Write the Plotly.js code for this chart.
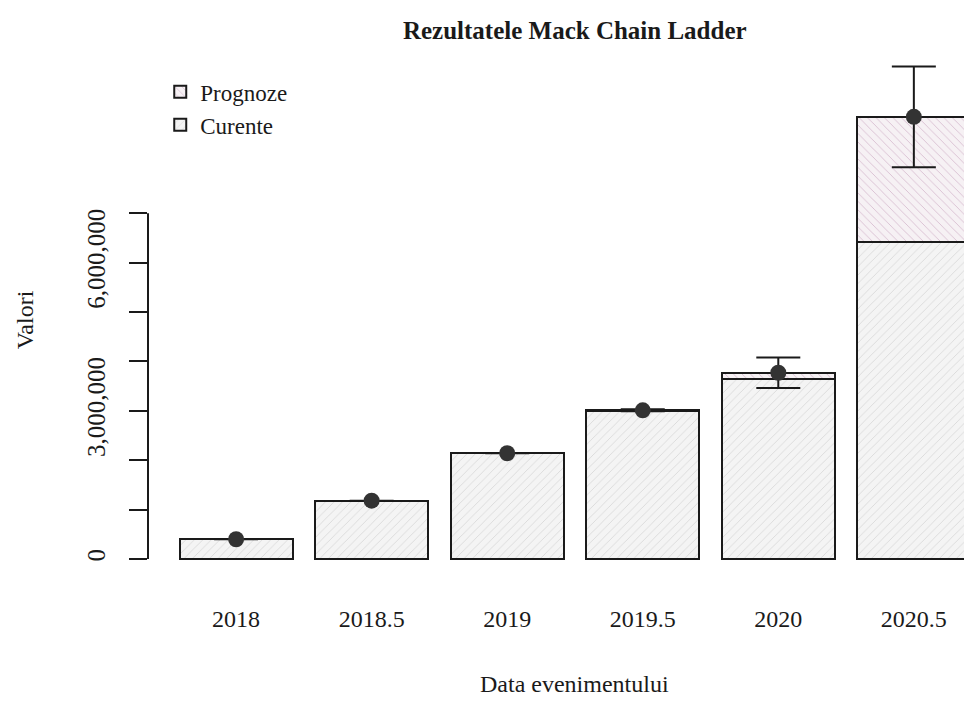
<!DOCTYPE html>
<html>
<head>
<meta charset="utf-8">
<script src="https://cdn.plot.ly/plotly-3.0.1.min.js"></script>
<style>html,body{margin:0;padding:0;background:#fff;}#chart{width:964px;height:701px;}</style>
</head>
<body>
<div id="chart"></div>
<script>
const years = ['2018', '2018.5', '2019', '2019.5', '2020', '2020.5'];
const latest = [0.40e6, 1.18e6, 2.14e6, 3.00e6, 3.64e6, 6.41e6];
const forecast = [0, 0, 0, 0.01e6, 0.13e6, 2.54e6];
const ultimate = [0.40e6, 1.18e6, 2.14e6, 3.01e6, 3.77e6, 8.95e6];
const mackSE = [null, null, null, 0.02e6, 0.31e6, 1.02e6];
const tickVals = [0, 1e6, 2e6, 3e6, 4e6, 5e6, 6e6, 7e6];
const tickText = ['0', '', '', '3,000,000', '', '', '6,000,000', ''];

const serif = 'Liberation Serif, Times New Roman, serif';

const traces = [
  {
    type: 'bar', name: 'Curente', x: years, y: latest,
    marker: {
      color: '#f3f3f3',
      line: {color: '#1a1a1a', width: 2},
      pattern: {shape: '/', fgcolor: '#d4d4d4', bgcolor: '#f4f4f4', size: 6, solidity: 0.12}
    },
    hoverinfo: 'x+y'
  },
  {
    type: 'bar', name: 'Prognoze', x: years, y: forecast,
    marker: {
      color: '#f4eef2',
      line: {color: '#1a1a1a', width: 2},
      pattern: {shape: '\\', fgcolor: '#d8bfd2', bgcolor: '#f6f1f4', size: 6, solidity: 0.15}
    },
    hoverinfo: 'x+y'
  },
  {
    type: 'scatter', mode: 'markers', x: years, y: ultimate, showlegend: false,
    marker: {color: '#333333', size: 16},
    error_y: {type: 'data', array: mackSE, visible: true, color: '#1a1a1a', thickness: 2, width: 22}
  }
];

const layout = {
  width: 964, height: 701,
  margin: {l: 148, r: 0, t: 60, b: 121},
  paper_bgcolor: '#ffffff', plot_bgcolor: '#ffffff',
  font: {family: serif, color: '#1a1a1a', size: 24},
  barmode: 'stack', bargap: 0.1667,
  showlegend: true,
  title: {
    text: '<b>Rezultatele Mack Chain Ladder</b>',
    font: {family: serif, size: 25, color: '#1a1a1a'},
    xref: 'paper', x: 0.523, xanchor: 'center', y: 0.957, yanchor: 'middle'
  },
  legend: {
    x: 0.015, y: 0.98, xanchor: 'left', yanchor: 'top',
    traceorder: 'reversed', bgcolor: 'rgba(0,0,0,0)',
    font: {family: serif, size: 23, color: '#1a1a1a'},
    itemwidth: 30, tracegroupgap: 0
  },
  xaxis: {
    type: 'category', range: [-0.65, 5.37],
    showline: false, showgrid: false, zeroline: false, ticks: '',
    tickfont: {family: serif, size: 24, color: '#1a1a1a'},
    ticklabelstandoff: 22
  },
  yaxis: {
    range: [-0.425e6, 10.1e6],
    showline: false, showgrid: false, zeroline: false,
    ticks: 'outside', ticklen: 18, tickwidth: 2, tickcolor: '#1a1a1a',
    tickvals: tickVals, ticktext: tickText, tickangle: -90,
    tickfont: {family: serif, size: 25, color: '#1a1a1a'},
    ticklabelstandoff: 14,
    title: {text: 'Valori', font: {family: serif, size: 24, color: '#1a1a1a'}, standoff: 42}
  },
  shapes: [{
    type: 'line', xref: 'paper', yref: 'y', x0: 0, x1: 0,
    y0: tickVals[0], y1: tickVals[tickVals.length - 1],
    line: {color: '#1a1a1a', width: 2}
  }],
  annotations: [{
    text: 'Data evenimentului', xref: 'paper', yref: 'paper',
    x: 0.523, y: -0.2, xanchor: 'center', yanchor: 'middle', showarrow: false,
    font: {family: serif, size: 24, color: '#1a1a1a'}
  }]
};

Plotly.newPlot('chart', traces, layout, {displayModeBar: false, staticPlot: true});
</script>
</body>
</html>
